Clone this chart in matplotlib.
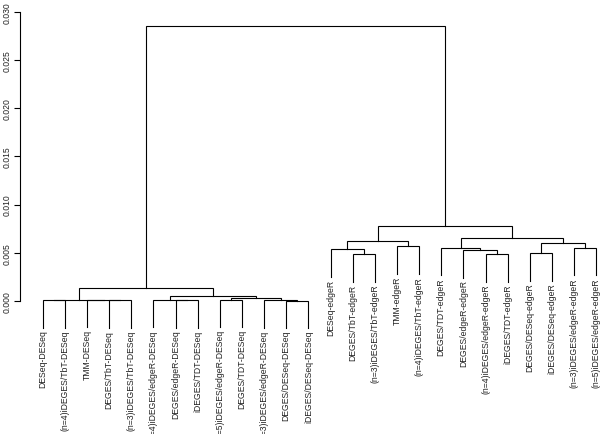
import matplotlib
matplotlib.use("Agg")
from matplotlib import pyplot as plt

plt.rcParams['font.family'] = ['Liberation Sans', 'DejaVu Sans']

# leaf labels in plotting order
labels = ["DESeq-DESeq", "(n=4)iDEGES/TbT-DESeq", "TMM-DESeq", "DEGES/TbT-DESeq",
          "(n=3)iDEGES/TbT-DESeq", "(n=4)iDEGES/edgeR-DESeq", "DEGES/edgeR-DESeq",
          "iDEGES/TDT-DESeq", "(n=5)iDEGES/edgeR-DESeq", "DEGES/TDT-DESeq",
          "(n=3)iDEGES/edgeR-DESeq", "DEGES/DESeq-DESeq", "iDEGES/DESeq-DESeq",
          "DESeq-edgeR", "DEGES/TbT-edgeR", "(n=3)iDEGES/TbT-edgeR", "TMM-edgeR",
          "(n=4)iDEGES/TbT-edgeR", "DEGES/TDT-edgeR", "DEGES/edgeR-edgeR",
          "(n=4)iDEGES/edgeR-edgeR", "iDEGES/TDT-edgeR", "DEGES/DESeq-edgeR",
          "iDEGES/DESeq-edgeR", "(n=3)iDEGES/edgeR-edgeR", "(n=5)iDEGES/edgeR-edgeR"]

# R style merge table: negative = leaf number, positive = earlier merge row
merge_a = [-1, -4, -3, 1, -7, -6, -9, -12, -11, 7, 6, 4,
           -15, -14, -17, 14, -21, -20, -19, -23, -25, 20, 19, 16, 12]
merge_b = [-2, -5, 2, 3, -8, 5, -10, -13, 8, 9, 10, 11,
           -16, 13, -18, 15, -22, 17, 18, -24, -26, 21, 22, 23, 24]
heights = [0.00010, 0.00008, 0.00012, 0.00015, 0.00010, 0.00013, 0.00013, 0.00005,
           0.00010, 0.00028, 0.00049, 0.00132,
           0.00487, 0.00539, 0.00567, 0.00619, 0.00487, 0.00529, 0.00550,
           0.00495, 0.00550, 0.00600, 0.00653, 0.00773, 0.02855]

hang = 0.1 * max(heights)

fig = plt.figure(figsize=(6, 4.35), dpi=100)
ax = fig.add_axes([20 / 600, 0, 580 / 600, 1 - 12.7 / 435])

node_x = []
for i in range(len(heights)):
    h = heights[i]
    xs = []
    ys = []
    for c in (merge_a[i], merge_b[i]):
        if c < 0:
            x = -c
            y = h - hang
            ax.text(x, y - 0.0002, labels[x - 1], rotation=90, ha='center', va='top',
                    fontsize=6.2, color='#222222')
        else:
            x = node_x[c - 1]
            y = heights[c - 1]
        xs.append(x)
        ys.append(y)
    ax.plot([xs[0], xs[0], xs[1], xs[1]], [ys[0], h, h, ys[1]],
            color='black', lw=0.8, solid_joinstyle='miter', clip_on=False)
    node_x.append((xs[0] + xs[1]) / 2)

ax.set_xlim(1 - 22.7 / 22.14, 1 + 557.3 / 22.14)
ax.set_ylim(-(435 - 302) / 9643, 0.030)

for s in ['top', 'right', 'bottom']:
    ax.spines[s].set_visible(False)
ax.spines['left'].set_bounds(0, 0.030)
ax.spines['left'].set_linewidth(0.8)
ax.set_xticks([])
ax.set_yticks([0.000, 0.005, 0.010, 0.015, 0.020, 0.025, 0.030])
ax.set_yticklabels(["0.000", "0.005", "0.010", "0.015", "0.020", "0.025", "0.030"],
                   rotation=90, va='center', fontsize=6.2, color='#222222')
ax.tick_params(axis='y', length=4, width=0.8, pad=2)

fig.savefig("out.png", dpi=100)
